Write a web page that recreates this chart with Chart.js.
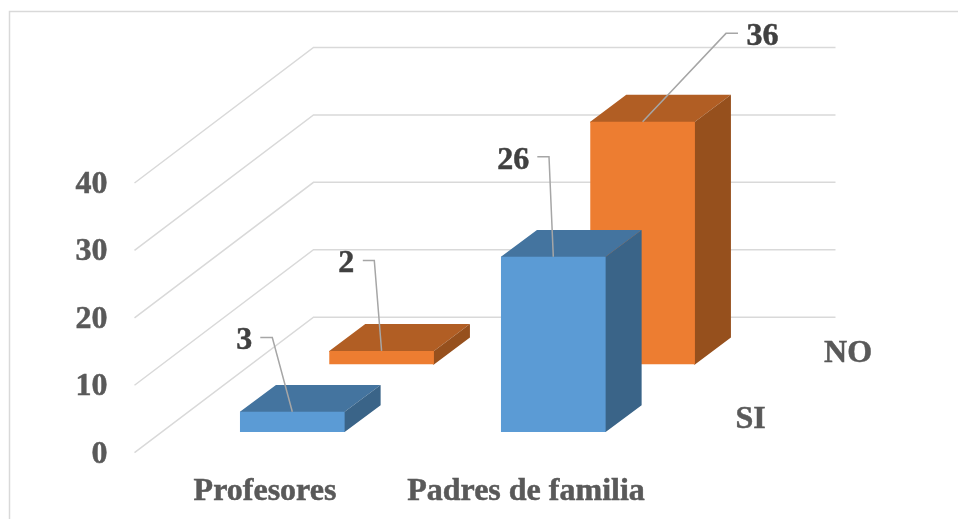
<!DOCTYPE html>
<html>
<head>
<meta charset="utf-8">
<style>
  html, body { margin: 0; padding: 0; background: #fff; }
  canvas { display: block; }
</style>
<script src="https://cdn.jsdelivr.net/npm/chart.js@4"></script>
</head>
<body>
<canvas id="chart" width="958" height="519"></canvas>
<script>
// Survey answers per group
const categories = ['Profesores', 'Padres de familia'];
const seriesNames = ['SI', 'NO'];
const siValues = [3, 26];
const noValues = [2, 36];
const yTicks = [0, 10, 20, 30, 40];

const FONT = { family: '"Liberation Serif", "Times New Roman", serif', size: 32, weight: 'bold' };
const FONT_CSS = `${FONT.weight} ${FONT.size}px ${FONT.family}`;
const TEXT_STROKE = 0.5;
// Canvas "middle" sits a little above the visual centre of this typeface.
const BASELINE_NUDGE = 1.7;

// Oblique projection: the front plane is the chart area, the walls recede from it.
const WALL_DEPTH = { dx: 179, dy: -135.5 };
const BAR_DEPTH = { dx: 36, dy: -26.8 };
// Side and top faces tuck under the front face so no seam shows what lies behind.
const FACE_OVERLAP = 1;

// Per-series look and its placement along the depth axis.
const seriesStyle = [
  { front: '#5B9BD5', top: '#44749F', side: '#3A6488', shift: { dx: 27.3, dy: -20.7 }, nameAt: { dx: 66.7, dy: -14 } },
  { front: '#ED7D31', top: '#B15E24', side: '#96501D', shift: { dx: 116.6, dy: -88.3 }, nameAt: { dx: 75, dy: -12.7 } }
];

// Callout geometry, relative to the top-centre of each bar's front face.
const callouts = [
  [
    { text: [-48, -73], start: [-32, -74.3], elbow: [-20, -74.3] },
    { text: [-40, -97.7], start: [-16, -100], elbow: [-4.3, -100] }
  ],
  [
    { text: [-35.3, -89], start: [-18.8, -90.4], elbow: [-7.3, -90.4] },
    { text: [120, -87], start: [95.4, -88.3], elbow: [83.4, -88.3] }
  ]
];

function drawText(ctx, text, x, y, color) {
  ctx.fillStyle = color;
  ctx.strokeStyle = color;
  ctx.lineWidth = TEXT_STROKE;
  ctx.fillText(text, x, y + BASELINE_NUDGE);
  ctx.strokeText(text, x, y + BASELINE_NUDGE);
}

const depthBars = {
  id: 'depthBars',
  afterLayout(chart) {
    // Tick labels share the same vertical nudge as the drawn labels.
    Object.values(chart.scales).forEach(scale => {
      if (scale._nudged) return;
      scale._nudged = true;
      const drawLabels = scale.drawLabels;
      scale.drawLabels = function (area) {
        chart.ctx.save();
        chart.ctx.translate(0, BASELINE_NUDGE);
        drawLabels.call(this, area);
        chart.ctx.restore();
      };
    });
  },
  beforeDraw(chart) {
    // Outer frame: only the top and left edges fall inside the canvas.
    const { ctx, width, height } = chart;
    ctx.save();
    ctx.strokeStyle = '#D9D9D9';
    ctx.lineWidth = 1.5;
    ctx.beginPath();
    ctx.moveTo(9.5, height);
    ctx.lineTo(9.5, 11.5);
    ctx.lineTo(width, 11.5);
    ctx.stroke();
    ctx.restore();
  },
  beforeDatasetsDraw(chart) {
    // Gridlines run along the side wall, then across the back wall.
    const { ctx, chartArea, scales: { y } } = chart;
    ctx.save();
    ctx.strokeStyle = '#D9D9D9';
    ctx.lineWidth = 1.5;
    y.ticks.forEach(t => {
      const py = y.getPixelForValue(t.value);
      ctx.beginPath();
      ctx.moveTo(chartArea.left, py);
      ctx.lineTo(chartArea.left + WALL_DEPTH.dx, py + WALL_DEPTH.dy);
      ctx.lineTo(chartArea.right + WALL_DEPTH.dx, py + WALL_DEPTH.dy);
      ctx.stroke();
    });
    ctx.restore();
  },
  beforeDatasetDraw(chart, args) {
    const { ctx } = chart;
    const style = seriesStyle[args.index];
    ctx.save();
    ctx.translate(style.shift.dx, style.shift.dy);
    chart.getDatasetMeta(args.index).data.forEach(bar => {
      const { x, y, base, width } = bar.getProps(['x', 'y', 'base', 'width'], true);
      const l = x - width / 2, r = x + width / 2;
      const { dx, dy } = BAR_DEPTH;
      ctx.fillStyle = style.top;
      ctx.beginPath();
      ctx.moveTo(l, y + FACE_OVERLAP);
      ctx.lineTo(l, y);
      ctx.lineTo(l + dx, y + dy);
      ctx.lineTo(r + dx, y + dy);
      ctx.lineTo(r, y);
      ctx.lineTo(r, y + FACE_OVERLAP);
      ctx.closePath();
      ctx.fill();
      ctx.fillStyle = style.side;
      ctx.beginPath();
      ctx.moveTo(r - FACE_OVERLAP, y);
      ctx.lineTo(r, y);
      ctx.lineTo(r + dx, y + dy);
      ctx.lineTo(r + dx, base + dy);
      ctx.lineTo(r, base);
      ctx.lineTo(r - FACE_OVERLAP, base);
      ctx.closePath();
      ctx.fill();
    });
  },
  afterDatasetDraw(chart) {
    chart.ctx.restore();
  },
  afterDatasetsDraw(chart) {
    const { ctx, chartArea, scales: { y } } = chart;
    const zero = y.getPixelForValue(0);
    ctx.save();
    ctx.font = FONT_CSS;
    ctx.textAlign = 'center';
    ctx.textBaseline = 'middle';
    chart.data.datasets.forEach((ds, i) => {
      const style = seriesStyle[i];
      // Series name on the depth axis
      drawText(ctx, ds.label,
        chartArea.right + style.shift.dx + style.nameAt.dx,
        zero + style.shift.dy + style.nameAt.dy, '#595959');
      // Value callouts with leader lines
      chart.getDatasetMeta(i).data.forEach((bar, j) => {
        const { x, y: top } = bar.getProps(['x', 'y'], true);
        const ax = x + style.shift.dx, ay = top + style.shift.dy;
        const c = callouts[i][j];
        ctx.strokeStyle = '#A6A6A6';
        ctx.lineWidth = 1.5;
        ctx.beginPath();
        ctx.moveTo(ax + c.start[0], ay + c.start[1]);
        ctx.lineTo(ax + c.elbow[0], ay + c.elbow[1]);
        ctx.lineTo(ax, ay);
        ctx.stroke();
        drawText(ctx, String(ds.data[j]), ax + c.text[0], ay + c.text[1], '#404040');
      });
    });
    ctx.restore();
  }
};

new Chart(document.getElementById('chart'), {
  type: 'bar',
  data: {
    labels: categories,
    datasets: [
      { label: seriesNames[0], data: siValues, backgroundColor: seriesStyle[0].front },
      { label: seriesNames[1], data: noValues, backgroundColor: seriesStyle[1].front }
    ]
  },
  options: {
    responsive: false,
    animation: false,
    layout: { padding: { top: 183, right: 301.5, bottom: 0, left: 0 } },
    datasets: { bar: { grouped: false, categoryPercentage: 1, barPercentage: 0.401, borderWidth: 0 } },
    plugins: { legend: { display: false }, tooltip: { enabled: false }, title: { display: false } },
    scales: {
      x: {
        grid: { display: false, drawTicks: false },
        border: { display: false },
        ticks: { font: FONT, color: '#595959', padding: 18, maxRotation: 0, autoSkip: false, textStrokeColor: '#595959', textStrokeWidth: TEXT_STROKE },
        afterFit(scale) { scale.height = 66.3; }
      },
      y: {
        min: 0,
        max: 40,
        afterBuildTicks(scale) { scale.ticks = yTicks.map(value => ({ value })); },
        grid: { display: false, drawTicks: false },
        border: { display: false },
        ticks: { font: FONT, color: '#595959', padding: 27, textStrokeColor: '#595959', textStrokeWidth: TEXT_STROKE },
        afterFit(scale) { scale.width = 134.5; }
      }
    }
  },
  plugins: [depthBars]
});
</script>
</body>
</html>
